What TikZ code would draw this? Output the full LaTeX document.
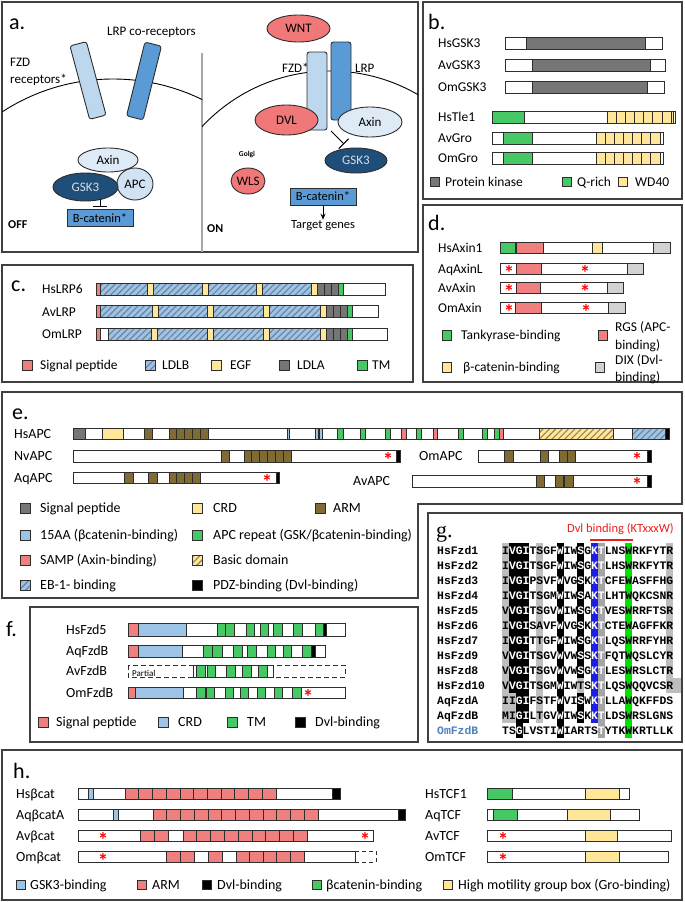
\documentclass[tikz,border=0pt]{standalone}
\usepackage{fontspec}
\setmainfont{Carlito}
\newfontfamily\seqfont{Liberation Mono}
\newfontfamily\serfont{Liberation Serif}
\usetikzlibrary{shapes.geometric,arrows.meta,patterns.meta}
\definecolor{pcol}{RGB}{64,64,64}
\definecolor{ocol}{RGB}{45,45,45}
\definecolor{sal}{RGB}{240,128,128}
\definecolor{grn}{RGB}{70,200,100}
\definecolor{yel}{RGB}{255,230,153}
\definecolor{lb}{RGB}{157,195,230}
\definecolor{kin}{RGB}{118,118,118}
\definecolor{dix}{RGB}{210,210,210}
\definecolor{ldla}{RGB}{118,118,118}
\definecolor{arm}{RGB}{128,108,50}
\definecolor{hatchb}{RGB}{110,130,150}
\definecolor{hatchy}{RGB}{150,130,80}
\definecolor{fzdc}{RGB}{189,215,238}
\definecolor{lrpc}{RGB}{91,155,213}
\definecolor{axinc}{RGB}{222,235,247}
\definecolor{gskc}{RGB}{31,78,121}
\definecolor{gsktx}{RGB}{215,220,230}
\definecolor{salc}{RGB}{240,120,120}
\definecolor{hlgrey}{RGB}{190,190,190}
\definecolor{hlmid}{RGB}{165,165,165}
\definecolor{hlblue}{RGB}{30,30,225}
\definecolor{hlgreen}{RGB}{0,225,0}
\definecolor{omblue}{RGB}{79,129,189}
\definecolor{starc}{RGB}{255,0,0}
\definecolor{dvlred}{RGB}{235,30,30}
\newcommand\dm[5]{\draw[dm,fill=#5] (#1,#3) rectangle (#2,#4);}
\newcommand\dmh[6]{\fill[#5] (#1,#3) rectangle (#2,#4);
  \fill[pattern={Lines[angle=45,distance=4.5pt,line width=1.1pt]},pattern color=#6] (#1,#3) rectangle (#2,#4);
  \draw[dm] (#1,#3) rectangle (#2,#4);}
\newcommand\dmboxes[6]{\foreach \i in {1,...,#3}{\draw[dm,fill=#6] ({#1+(\i-1)*#2},#4) rectangle ({#1+\i*#2},#5);}}
\newcommand\rst[2]{\node[starn] (st-#1-#2) at (#1,#2) {*};}
\newcommand\hb[4]{\fill[#4] ({502+(#2-1)*6.84},{#1-7.5}) rectangle ({502+(#2-1+#3)*6.84},{#1+7.5});}
\newcommand\Wt[1]{\textcolor{white}{#1}}
\newcommand\seqrow[4]{\node[seqn,text=#4] (n-#2) at (437,{#1+4}) {#2};\node[seqn] (s-#2) at (502,{#1+4}) {#3};}
\newcommand\hshl[1]{\hb{#1}{1}{1}{hlgrey}\hb{#1}{2}{3}{black}\hb{#1}{6}{1}{hlgrey}\hb{#1}{9}{1}{black}\hb{#1}{12}{1}{black}\hb{#1}{14}{1}{hlblue}\hb{#1}{15}{1}{hlmid}\hb{#1}{19}{1}{hlgreen}\hb{#1}{25}{1}{hlgrey}}
\newcommand\aqhl[1]{\hb{#1}{1}{2}{hlgrey}\hb{#1}{3}{2}{black}\hb{#1}{6}{1}{hlgrey}\hb{#1}{9}{1}{black}\hb{#1}{12}{1}{black}\hb{#1}{14}{1}{hlblue}\hb{#1}{15}{1}{hlmid}\hb{#1}{19}{1}{hlgreen}}
\begin{document}
\begin{tikzpicture}[x=1pt,y=-1pt,
  panelb/.style={draw=pcol,line width=1.3pt},
  dm/.style={draw=ocol,line width=0.8pt},
  lbl/.style={anchor=base west,inner sep=0pt,font=\fontsize{14}{16}\selectfont},
  lblb/.style={anchor=base west,inner sep=0pt,font=\fontsize{13.5}{16}\selectfont},
  letter/.style={anchor=base west,inner sep=0pt,font=\fontsize{22}{26}\selectfont},
  atext/.style={anchor=base west,inner sep=0pt,font=\fontsize{13}{15}\selectfont},
  ell/.style={ellipse,draw=ocol,line width=0.9pt,inner sep=0pt,font=\fontsize{13}{15}\selectfont},
  rbar/.style={rectangle,draw=ocol,line width=0.9pt,rounded corners=2.5pt,inner sep=0pt},
  bcbox/.style={rectangle,draw=ocol,line width=0.9pt,fill=lrpc,minimum width=66pt,minimum height=17pt,inner sep=0pt,font=\fontsize{12.5}{14}\selectfont},
  memb/.style={draw=black,line width=0.9pt},
  inh/.style={draw=black,line width=1pt,-{Bar[width=14pt,line width=1pt]}},
  arr/.style={draw=black,line width=1pt,-{Stealth[length=6pt,width=5pt]}},
  starn/.style={anchor=base,inner sep=0pt,text=starc,font=\bfseries\fontsize{21}{21}\selectfont,yshift=-11pt},
  seqn/.style={anchor=base west,inner sep=0pt,font=\seqfont\bfseries\fontsize{11.4}{12}\selectfont},
]
\useasboundingbox (0,0) rectangle (685,902);
\fill[white] (0,0) rectangle (685,902);

% ================= panel a =================
\draw[panelb] (2,2) rectangle (418,252);
\node[letter] (la) at (9,29) {a.};
\node[atext] (lrpco) at (107,35) {LRP co-receptors};
\node[atext] (fzdr1) at (10,66) {FZD};
\node[atext] (fzdr2) at (10,83) {receptors*};
\draw[draw=gray!70,line width=1.3pt] (202,53) -- (202,252);
\begin{scope}\clip (2,2) rectangle (202,252); \draw[memb] (113,282) circle[radius=203pt]; \end{scope}
\begin{scope}\clip (202,2) rectangle (418,252); \draw[memb] (330,246) circle[radius=175pt]; \end{scope}
\node[rbar,fill=fzdc,rotate=15,minimum width=17pt,minimum height=76pt] (fzdoff) at (88,80.5) {};
\node[rbar,fill=lrpc,rotate=-14,minimum width=17pt,minimum height=76pt] (lrpoff) at (144,81) {};
\node[ell,fill=axinc,minimum width=60pt,minimum height=24pt] (axoff) at (108,160) {Axin};
\node[ell,fill=axinc!60!fzdc,minimum width=36pt,minimum height=32pt] (apcoff) at (135,184) {APC};
\node[ell,fill=gskc,text=gsktx,minimum width=65pt,minimum height=28pt] (gskoff) at (85.5,187) {GSK3};
\node[bcbox] (bcoff) at (100,218) {B-catenin*};
\coordinate (inhoff) at (100,199);
\draw[inh,shorten >=2pt] (inhoff) -- (bcoff.north);
\node[anchor=base west,inner sep=0pt,font=\bfseries\fontsize{12}{14}\selectfont] (off) at (8,228) {OFF};
% ON side
\node[rbar,fill=fzdc,minimum width=20pt,minimum height=78pt] (fzdon) at (317,91) {};
\node[rbar,fill=lrpc,minimum width=20pt,minimum height=78pt] (lrpon) at (341,81) {};
\node[ell,fill=salc,minimum width=63pt,minimum height=30pt] (dvl) at (286.5,120) {DVL};
\node[ell,fill=axinc,minimum width=64pt,minimum height=30pt] (axon) at (370,122) {Axin};
\node[ell,fill=salc,minimum width=63pt,minimum height=27pt] (wnt) at (298.5,28.5) {WNT};
\node[atext] (fzdlab) at (282,72) {FZD*};
\node[atext] (lrplab) at (355,72) {LRP};
\node[ell,fill=gskc,text=gsktx,minimum width=62pt,minimum height=25pt] (gskon) at (356,160.5) {GSK3};
\coordinate (inhA) at (331,131);
\coordinate (inhB) at (344,144);
\draw[inh] (inhA) -- (inhB);
\node[inner sep=0pt,font=\bfseries\fontsize{7.5}{9}\selectfont] (golgi) at (247,155) {Golgi};
\node[ell,fill=salc,minimum width=34pt,minimum height=26pt] (wls) at (248,181) {WLS};
\node[bcbox] (bcon) at (323,196.5) {B-catenin*};
\node[inner sep=0pt,font=\fontsize{12.5}{14}\selectfont] (tg) at (323,226) {Target genes};
\draw[arr] (bcon.south) -- ([yshift=1pt]tg.north);
\node[anchor=base west,inner sep=0pt,font=\bfseries\fontsize{12}{14}\selectfont] (on) at (207,232) {ON};

% ================= panel b =================
\draw[panelb] (423,2) rectangle (682,199);
\node[letter] (lb) at (428,29) {b.};
\node[lblb] (b1) at (438,47.5) {HsGSK3};
\node[lblb] (b2) at (438,69.5) {AvGSK3};
\node[lblb] (b3) at (438,91.5) {OmGSK3};
\node[lblb] (b4) at (438,121.5) {HsTle1};
\node[lblb] (b5) at (438,142.5) {AvGro};
\node[lblb] (b6) at (438,162.5) {OmGro};
\dm{505}{662}{37}{49}{white}\dm{526}{645}{37}{49}{kin}
\dm{505}{665}{59}{71}{white}\dm{532}{650}{59}{71}{kin}
\dm{505}{664}{81}{93}{white}\dm{532}{647}{81}{93}{kin}
\dm{492}{675}{111}{123}{white}\dm{492}{524}{111}{123}{grn}\dmboxes{607}{9.15}{7}{111}{123}{yel}\dm{671}{673.5}{111}{123}{yel}
\dm{492}{663}{132}{144}{white}\dm{503}{532}{132}{144}{grn}\dmboxes{596}{9.14}{7}{132}{144}{yel}
\dm{492}{663}{152}{164}{white}\dm{503}{532}{152}{164}{grn}\dmboxes{596}{9.14}{7}{152}{164}{yel}
\dm{430}{439}{177.5}{186.5}{kin}\node[lblb] (bl1) at (445,186.5) {Protein kinase};
\dm{562}{571}{177.5}{186.5}{grn}\node[lblb] (bl2) at (577,186.5) {Q-rich};
\dm{618}{627}{177.5}{186.5}{yel}\node[lblb] (bl3) at (635,186.5) {WD40};

% ================= panel c =================
\draw[panelb] (2,265) rectangle (413,382);
\node[letter] (lc) at (11,291) {c.};
\node[lblb] (c1) at (42,293.5) {HsLRP6};
\node[lblb] (c2) at (42,316) {AvLRP};
\node[lblb] (c3) at (42,338.5) {OmLRP};
\dm{96}{385}{283}{295}{white}\dm{96}{100}{283}{295}{sal}
\dmh{100}{147}{283}{295}{lb}{hatchb}\dm{147}{153}{283}{295}{yel}
\dmh{153}{202}{283}{295}{lb}{hatchb}\dm{202}{208}{283}{295}{yel}
\dmh{208}{256}{283}{295}{lb}{hatchb}\dm{256}{262}{283}{295}{yel}
\dmh{262}{311}{283}{295}{lb}{hatchb}\dm{311}{317}{283}{295}{yel}
\dmboxes{317}{7}{3}{283}{295}{ldla}\dm{338}{343}{283}{295}{grn}
\dm{96}{378}{305.5}{317.5}{white}\dm{96}{100}{305.5}{317.5}{sal}
\dmh{100}{152}{305.5}{317.5}{lb}{hatchb}\dm{152}{158}{305.5}{317.5}{yel}
\dmh{158}{207}{305.5}{317.5}{lb}{hatchb}\dm{207}{213}{305.5}{317.5}{yel}
\dmh{213}{263}{305.5}{317.5}{lb}{hatchb}\dm{263}{269}{305.5}{317.5}{yel}
\dmh{269}{320}{305.5}{317.5}{lb}{hatchb}\dm{320}{326}{305.5}{317.5}{yel}
\dmboxes{326}{7}{3}{305.5}{317.5}{ldla}\dm{347}{352}{305.5}{317.5}{grn}
\dm{96}{387}{328}{340}{white}\dm{96}{100}{328}{340}{sal}
\dmh{108}{151}{328}{340}{lb}{hatchb}\dm{151}{157}{328}{340}{yel}
\dmh{157}{207}{328}{340}{lb}{hatchb}\dm{207}{213}{328}{340}{yel}
\dmh{213}{263}{328}{340}{lb}{hatchb}\dm{263}{269}{328}{340}{yel}
\dmh{269}{320}{328}{340}{lb}{hatchb}\dm{320}{326}{328}{340}{yel}
\dmboxes{326}{7}{3}{328}{340}{ldla}\dm{347}{352}{328}{340}{grn}
\dm{22}{32}{360}{370}{sal}\node[lblb] (cg1) at (40,369.5) {Signal peptide};
\dmh{145}{155}{360}{370}{lb}{hatchb}\node[lblb] (cg2) at (162,369.5) {LDLB};
\dm{211}{221}{360}{370}{yel}\node[lblb] (cg3) at (230,369.5) {EGF};
\dm{279}{289}{360}{370}{ldla}\node[lblb] (cg4) at (297,369.5) {LDLA};
\dm{357}{367}{360}{370}{grn}\node[lblb] (cg5) at (372,369.5) {TM};

% ================= panel d =================
\draw[panelb] (423,205) rectangle (682,382);
\node[letter] (ld) at (428,230) {d.};
\node[lblb] (d1) at (438,252) {HsAxin1};
\node[lblb] (d2) at (438,273) {AqAxinL};
\node[lblb] (d3) at (438,292) {AvAxin};
\node[lblb] (d4) at (438,312) {OmAxin};
\dm{500}{670}{242}{253}{white}\dm{500}{515}{242}{253}{grn}\dm{516}{543}{242}{253}{sal}\dm{592}{602}{242}{253}{yel}\dm{653}{670}{242}{253}{dix}
\dm{500}{643}{263}{274}{white}\dm{516}{541}{263}{274}{sal}\dm{627}{643}{263}{274}{dix}\rst{509}{269}\rst{585}{269}
\dm{500}{623}{282}{293}{white}\dm{516}{540}{282}{293}{sal}\dm{607}{623}{282}{293}{dix}\rst{509}{288}\rst{585}{288}
\dm{500}{625}{302}{313}{white}\dm{515}{541}{302}{313}{sal}\dm{608}{625}{302}{313}{dix}\rst{509}{308}\rst{586}{308}
\dm{442}{451}{330}{340}{grn}\node[lblb] (dl1) at (461,339.5) {Tankyrase-binding};
\dm{598}{607}{330}{340}{sal}\node[lblb] (dl2) at (615,331.5) {RGS (APC-};\node[lblb] (dl2b) at (615,349.5) {binding)};
\dm{442}{451}{362}{372}{yel}\node[lblb] (dl3) at (463,371.5) {β-catenin-binding};
\dm{595}{604}{362}{372}{dix}\node[lblb] (dl4) at (615,364) {DIX (Dvl-};\node[lblb] (dl4b) at (615,381) {binding)};

% ================= panel e =================
\draw[panelb] (2,392) -- (682,392) -- (682,504) -- (418,504) -- (418,598) -- (2,598) -- cycle;
\node[letter] (le) at (12,419) {e.};
\node[lbl] (e1) at (14,438) {HsAPC};
\node[lbl] (e2) at (14,460.5) {NvAPC};
\node[lbl] (e3) at (14,482) {AqAPC};
\node[lbl] (e4) at (419,460.5) {OmAPC};
\node[lbl] (e5) at (353,485.5) {AvAPC};
% HsAPC
\dm{73}{669}{428}{439}{white}\dm{73}{85}{428}{439}{kin}\dm{102}{123}{428}{439}{yel}\dm{144}{152}{428}{439}{arm}\dmboxes{169}{7.8}{5}{428}{439}{arm}
\dm{287}{289.5}{428}{439}{lb}\dm{315}{318}{428}{439}{lb}\dm{319}{322}{428}{439}{lb}
\dm{337}{343}{428}{439}{grn}\dm{360}{365}{428}{439}{grn}\dm{385}{390}{428}{439}{grn}\dm{401}{406}{428}{439}{sal}\dm{416}{421}{428}{439}{grn}\dm{433}{437}{428}{439}{sal}
\dm{458}{463}{428}{439}{grn}\dm{482}{487}{428}{439}{grn}\dm{494}{499}{428}{439}{grn}\dm{499}{503}{428}{439}{sal}
\dmh{539}{613}{428}{439}{yel}{hatchy}\dmh{632}{665}{428}{439}{lb}{hatchb}\dm{665}{669}{428}{439}{black}
% NvAPC
\dm{73}{400}{450}{462}{white}\dm{221}{229}{450}{462}{arm}\dmboxes{244}{7.83}{6}{450}{462}{arm}\dm{396}{400}{450}{462}{black}\rst{388}{456}
% AqAPC
\dm{73}{279}{472}{483}{white}\dm{124}{133}{472}{483}{arm}\dm{148}{157}{472}{483}{arm}\dmboxes{169}{7.75}{4}{472}{483}{arm}\dm{276}{279}{472}{483}{black}\rst{267}{478}
% OmAPC
\dm{478}{651}{450}{462}{white}\dm{504}{513}{450}{462}{arm}\dm{540}{548}{450}{462}{arm}\dm{559}{567}{450}{462}{arm}\dm{567}{575}{450}{462}{arm}\dm{647}{651}{450}{462}{black}\rst{637}{456}
% AvAPC
\dm{412}{651}{475}{487}{white}\dm{536}{544}{475}{487}{arm}\dm{555}{563}{475}{487}{arm}\dm{564}{573}{475}{487}{arm}\dm{647}{651}{475}{487}{black}\rst{637}{481}
% legend e
\dm{20}{30}{503}{513}{kin}\node[lbl] (el1) at (40,512.5) {Signal peptide};
\dm{192}{202}{503}{513}{yel}\node[lbl] (el2) at (213,512.5) {CRD};
\dm{315}{325}{503}{513}{arm}\node[lbl] (el3) at (333,512.5) {ARM};
\dm{20}{30}{530}{540}{lb}\node[lbl] (el4) at (40,539.5) {15AA (βcatenin-binding)};
\dm{192}{202}{530}{540}{grn}\node[lbl] (el5) at (213,539.5) {APC repeat (GSK/βcatenin-binding)};
\dm{20}{30}{555}{565}{sal}\node[lbl] (el6) at (40,564.5) {SAMP (Axin-binding)};
\dmh{192}{202}{555}{565}{yel}{hatchy}\node[lbl] (el7) at (213,564.5) {Basic domain};
\dmh{20}{30}{580}{590}{lb}{hatchb}\node[lbl] (el8) at (40,589.5) {EB-1- binding};
\dm{192}{202}{580}{590}{black}\node[lbl] (el9) at (213,589.5) {PDZ-binding (Dvl-binding)};

% ================= panel f =================
\node[letter] (lf) at (6,636) {f.};
\draw[panelb] (30,607) rectangle (418,742);
\node[lbl] (f1) at (66,634.5) {HsFzd5};
\node[lbl] (f2) at (66,655.5) {AqFzdB};
\node[lbl] (f3) at (66,675.5) {AvFzdB};
\node[lbl] (f4) at (66,697) {OmFzdB};
\dm{128}{345}{623}{636}{white}\dm{128}{138}{623}{636}{sal}\dm{138}{186}{623}{636}{lb}
\dm{217}{225.5}{623}{636}{grn}\dm{225.5}{234}{623}{636}{grn}\dm{246}{254}{623}{636}{grn}\dm{260}{268}{623}{636}{grn}\dm{273}{282}{623}{636}{grn}\dm{293}{302}{623}{636}{grn}\dm{315}{323}{623}{636}{grn}\dm{323}{326}{623}{636}{black}
\dm{128}{325}{645}{657}{white}\dm{128}{138}{645}{657}{sal}\dm{138}{182}{645}{657}{lb}
\dm{203}{212}{645}{657}{grn}\dm{212}{222}{645}{657}{grn}\dm{233}{242}{645}{657}{grn}\dm{247}{256}{645}{657}{grn}\dm{267}{275}{645}{657}{grn}\dm{283}{291}{645}{657}{grn}\dm{302}{311}{645}{657}{grn}\dm{311}{315}{645}{657}{black}
\draw[dm,dashed,dash pattern=on 5pt off 3pt] (128,665) rectangle (345,677);
\dm{193}{273}{665}{677}{white}\draw[dm] (196,665) -- (196,677);
\dm{196}{205}{665}{677}{grn}\dm{207}{215}{665}{677}{grn}\dm{226}{235}{665}{677}{grn}\dm{242}{251}{665}{677}{grn}\dm{258}{267}{665}{677}{grn}
\node[anchor=base west,inner sep=0pt,font=\fontsize{9}{10}\selectfont] (partial) at (132,676) {Partial};
\dm{128}{345}{687}{698}{white}\dm{128}{135}{687}{698}{sal}\dm{135}{183}{687}{698}{lb}
\dm{196}{205}{687}{698}{grn}\dm{206}{214}{687}{698}{grn}\dm{225}{233}{687}{698}{grn}\dm{240}{248}{687}{698}{grn}\dm{257}{265}{687}{698}{grn}\dm{274}{282}{687}{698}{grn}\dm{292}{301}{687}{698}{grn}\rst{308}{693}
\dm{38}{48}{717}{727}{sal}\node[lbl] (fl1) at (56,726.5) {Signal peptide};
\dm{158}{168}{717}{727}{lb}\node[lbl] (fl2) at (178,726.5) {CRD};
\dm{227}{237}{717}{727}{grn}\node[lbl] (fl3) at (247,726.5) {TM};
\dm{295}{305}{717}{727}{black}\node[lbl] (fl4) at (315,726.5) {Dvl-binding};

% ================= panel g =================
\draw[panelb] (428,513) rectangle (682,742);
\node[anchor=base west,inner sep=0pt,font=\serfont\fontsize{22}{26}\selectfont] (lg) at (436,537) {g.};
\node[anchor=base east,inner sep=0pt,text=dvlred,font=\fontsize{12.5}{14}\selectfont] (dvlb) at (674,532) {Dvl binding (KTxxxW)};
\coordinate (ulA) at (590,540); \coordinate (ulB) at (633,540);
\draw[dvlred,line width=1.2pt] (ulA) -- (ulB);
\hshl{550}\hshl{565}\hshl{580}\hshl{595}\hshl{610}\hshl{625}\hshl{640}\hshl{655}\hshl{670}
\hb{685}{1}{1}{hlgrey}\hb{685}{2}{3}{black}\hb{685}{6}{1}{hlgrey}\hb{685}{9}{1}{black}\hb{685}{12}{1}{hlgrey}\hb{685}{14}{1}{hlblue}\hb{685}{15}{1}{hlmid}\hb{685}{19}{1}{hlgreen}\fill[hlgrey] (666.2,677.5) rectangle (681,692.5);
\aqhl{700}\aqhl{715}
\hb{730}{3}{1}{black}\hb{730}{9}{1}{black}\hb{730}{15}{1}{hlmid}\hb{730}{19}{1}{hlgreen}
\seqrow{550}{HsFzd1}{I\Wt{VGI}TSGF\Wt{W}IW\Wt{S}G\Wt{KT}LNSWRKFYTR}{black}
\seqrow{565}{HsFzd2}{I\Wt{VGI}TSGF\Wt{W}IW\Wt{S}G\Wt{KT}LHSWRKFYTR}{black}
\seqrow{580}{HsFzd3}{I\Wt{VGI}PSVF\Wt{W}VG\Wt{S}K\Wt{KT}CFEWASFFHG}{black}
\seqrow{595}{HsFzd4}{I\Wt{VGI}TSGM\Wt{W}IW\Wt{S}A\Wt{KT}LHTWQKCSNR}{black}
\seqrow{610}{HsFzd5}{V\Wt{VGI}TSGV\Wt{W}IW\Wt{S}G\Wt{KT}VESWRRFTSR}{black}
\seqrow{625}{HsFzd6}{I\Wt{VGI}SAVF\Wt{W}VG\Wt{S}K\Wt{KT}CTEWAGFFKR}{black}
\seqrow{640}{HsFzd7}{I\Wt{VGI}TTGF\Wt{W}IW\Wt{S}G\Wt{KT}LQSWRRFYHR}{black}
\seqrow{655}{HsFzd9}{V\Wt{VGI}TSGV\Wt{W}VW\Wt{S}S\Wt{KT}FQTWQSLCYR}{black}
\seqrow{670}{HsFzd8}{V\Wt{VGI}TSGV\Wt{W}VW\Wt{S}G\Wt{KT}LESWRSLCTR}{black}
\seqrow{685}{HsFzd10}{V\Wt{VGI}TSGM\Wt{W}IWTS\Wt{KT}LQSWQQVCSR}{black}
\seqrow{700}{AqFzdA}{II\Wt{GI}FSTF\Wt{W}VI\Wt{S}W\Wt{KT}LLAWQKFFDS}{black}
\seqrow{715}{AqFzdB}{MI\Wt{GI}LTGV\Wt{W}IW\Wt{S}K\Wt{KT}LDSWRSLGNS}{black}
\seqrow{730}{OmFzdB}{TS\Wt{G}LVSTI\Wt{W}IARTS\Wt{T}YTKWKRTLLK}{omblue}

% ================= panel h =================
\draw[panelb] (2,750) rectangle (682,900);
\node[letter] (lh) at (13,778) {h.};
\node[lbl] (h1) at (16,798) {Hsβcat};
\node[lbl] (h2) at (16,819) {AqβcatA};
\node[lbl] (h3) at (16,840) {Avβcat};
\node[lbl] (h4) at (16,861) {Omβcat};
\dm{78}{340}{788}{799}{white}\dm{88}{93}{788}{799}{lb}\dmboxes{125}{13.73}{11}{788}{799}{sal}\dm{332}{340}{788}{799}{black}
\dm{78}{405}{809}{820}{white}\dm{113}{118}{809}{820}{lb}\dmboxes{153}{13.75}{12}{809}{820}{sal}\dm{398}{405}{809}{820}{black}
\dm{78}{373}{830}{841}{white}\dmboxes{140}{14}{2}{830}{841}{sal}\dmboxes{183}{13.78}{9}{830}{841}{sal}\rst{103}{836}\rst{365}{836}
\dm{78}{355}{851}{862}{white}\dmboxes{166}{14}{2}{851}{862}{sal}\dm{208}{222}{851}{862}{sal}\dmboxes{236}{13.6}{5}{851}{862}{sal}\rst{103}{857}
\draw[dm,dashed,dash pattern=on 4pt off 3pt] (355,851) -- (376,851) -- (376,862) -- (355,862);
\node[lbl] (t1) at (425,798) {HsTCF1};
\node[lbl] (t2) at (425,819) {AqTCF};
\node[lbl] (t3) at (425,840) {AvTCF};
\node[lbl] (t4) at (425,861) {OmTCF};
\dm{487}{629}{788}{799}{white}\dm{487}{512}{788}{799}{grn}\dm{585}{619}{788}{799}{yel}
\dm{487}{639}{809}{820}{white}\dm{493}{517}{809}{820}{grn}\dm{567}{610}{809}{820}{yel}
\dm{487}{671}{830}{841}{white}\dm{585}{617}{830}{841}{yel}\rst{503}{836}
\dm{487}{668}{851}{862}{white}\dm{585}{619}{851}{862}{yel}\rst{503}{857}
\dm{16}{25}{880.5}{889.5}{lb}\node[lbl] (hl1) at (30,889.5) {GSK3-binding};
\dm{137}{146}{880.5}{889.5}{sal}\node[lbl] (hl2) at (152,889.5) {ARM};
\dm{202}{211}{880.5}{889.5}{black}\node[lbl] (hl3) at (217,889.5) {Dvl-binding};
\dm{312}{321}{880.5}{889.5}{grn}\node[lbl] (hl4) at (326,889.5) {βcatenin-binding};
\dm{443}{452}{880.5}{889.5}{yel}\node[lbl] (hl5) at (458,889.5) {High motility group box (Gro-binding)};
\end{tikzpicture}
\end{document}
